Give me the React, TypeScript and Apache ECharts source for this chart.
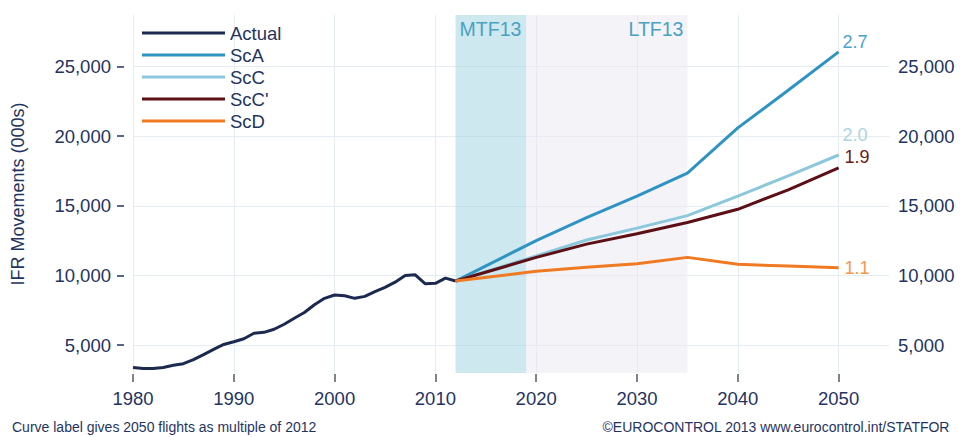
import React, { useEffect, useRef } from "react";
import * as echarts from "echarts";

const actualYears = [1980, 1981, 1982, 1983, 1984, 1985, 1986, 1987, 1988, 1989, 1990, 1991, 1992, 1993, 1994, 1995, 1996, 1997, 1998, 1999, 2000, 2001, 2002, 2003, 2004, 2005, 2006, 2007, 2008, 2009, 2010, 2011, 2012];
const actualValues = [3400, 3330, 3330, 3400, 3550, 3670, 3960, 4320, 4690, 5050, 5240, 5460, 5850, 5920, 6140, 6500, 6930, 7340, 7900, 8360, 8600, 8550, 8360, 8500, 8840, 9150, 9520, 10000, 10050, 9400, 9440, 9810, 9600];

const forecastYears = [2012, 2020, 2025, 2030, 2035, 2040, 2045, 2050];
const scA = [9600, 12500, 14150, 15700, 17350, 20600, 23300, 26050];
const scC = [9600, 11400, 12550, 13400, 14300, 15700, 17150, 18650];
const scCp = [9600, 11300, 12250, 13000, 13800, 14750, 16150, 17730];
const scD = [9600, 10300, 10600, 10850, 11300, 10800, 10680, 10550];

const seriesNames = ["Actual", "ScA", "ScC", "ScC'", "ScD"];
const endLabels = ["2.7", "2.0", "1.9", "1.1"];

const xTicks = [1980, 1990, 2000, 2010, 2020, 2030, 2040, 2050];
const yTicks = [5000, 10000, 15000, 20000, 25000];

const bands = [
  { name: "MTF13", from: 2012, to: 2019 },
  { name: "LTF13", from: 2019, to: 2035 },
];

const FONT = "'Liberation Sans', Arial, Helvetica, sans-serif";
const NAVY = "#1f3461";
const LEGEND_ICON = "path://M0,0 L83,0 L83,3 L0,3 Z";

export default function App() {
  const ref = useRef<HTMLDivElement>(null);
  useEffect(() => {
    if (!ref.current) return;
    const chart = echarts.init(ref.current, undefined, { renderer: "svg" });

    const colors = ["#1b2a4e", "#2f94c4", "#8cc8dc", "#5c1015", "#f07a22"];
    const labelColors = ["#4aa3cf", "#a9d5e4", "#6b1a1f", "#f3994c"];
    const labelOffsets = [
      [0, -10],
      [0, -20],
      [2, -11],
      [2, 0],
    ];
    const forecasts = [scA, scC, scCp, scD];

    const series: any[] = [
      {
        name: "bands",
        type: "line",
        data: [],
        z: 1,
        silent: true,
        markArea: {
          silent: true,
          data: [
            [
              {
                xAxis: bands[0].from,
                itemStyle: { color: "rgba(157,209,225,0.5)" },
                label: {
                  show: true,
                  position: "insideTopLeft",
                  distance: 4,
                  formatter: bands[0].name,
                  color: "#4aa2c3",
                  fontSize: 19.5,
                  fontFamily: FONT,
                },
              },
              { xAxis: bands[0].to },
            ],
            [
              {
                xAxis: bands[1].from,
                itemStyle: { color: "rgba(231,231,241,0.5)" },
                label: {
                  show: true,
                  position: "insideTopRight",
                  distance: 4,
                  formatter: bands[1].name,
                  color: "#4aa2c3",
                  fontSize: 19.5,
                  fontFamily: FONT,
                },
              },
              { xAxis: bands[1].to },
            ],
          ],
        },
      },
      {
        name: seriesNames[0],
        type: "line",
        data: actualYears.map((y, i) => [y, actualValues[i]]),
        showSymbol: false,
        symbol: "none",
        lineStyle: { color: colors[0], width: 3 },
        itemStyle: { color: colors[0] },
        z: 3,
      },
      ...forecasts.map((vals, k) => ({
        name: seriesNames[k + 1],
        type: "line",
        data: forecastYears.map((y, i) => [y, vals[i]]),
        showSymbol: false,
        symbol: "none",
        lineStyle: { color: colors[k + 1], width: 3 },
        itemStyle: { color: colors[k + 1] },
        endLabel: {
          show: true,
          formatter: endLabels[k],
          color: labelColors[k],
          fontSize: 18,
          fontFamily: FONT,
          distance: 4,
          offset: labelOffsets[k],
        },
        z: 3,
      })),
    ];

    const option: any = {
      animation: false,
      backgroundColor: "#ffffff",
      textStyle: { fontFamily: FONT },
      grid: { left: 133, right: 71, top: 15, bottom: 64, containLabel: false },
      legend: {
        data: seriesNames.map((n) => ({ name: n, icon: LEGEND_ICON })),
        orient: "vertical",
        left: 137,
        top: 17,
        itemWidth: 83,
        itemHeight: 3,
        itemGap: 0,
        textStyle: { color: NAVY, fontSize: 18.5, fontFamily: FONT, lineHeight: 22, height: 22 },
        selectedMode: false,
      },
      xAxis: {
        type: "value",
        min: 1980,
        max: 2055,
        offset: 1,
        axisLine: { show: false },
        axisTick: { show: true, length: 8, lineStyle: { color: "#555a66", width: 1.5 }, customValues: xTicks },
        axisLabel: {
          customValues: xTicks,
          color: NAVY,
          fontSize: 18.5,
          fontFamily: FONT,
          margin: 15,
          formatter: (v: number) => String(v),
        },
        splitLine: { show: true, lineStyle: { color: "#e6edf2", width: 1 } },
      },
      yAxis: [
        {
          type: "value",
          min: 3000,
          max: 28700,
          position: "left",
          offset: 9,
          name: "IFR Movements (000s)",
          nameLocation: "middle",
          nameGap: 97,
          nameRotate: 90,
          nameTextStyle: { color: NAVY, fontSize: 18, fontFamily: FONT },
          axisLine: { show: false },
          axisTick: { show: true, length: 7, lineStyle: { color: NAVY, width: 1.5 }, customValues: yTicks },
          axisLabel: {
            customValues: yTicks,
            color: NAVY,
            fontSize: 18.5,
            fontFamily: FONT,
            margin: 13,
            formatter: (v: number) => v.toLocaleString("en-US"),
          },
          splitLine: { show: true, lineStyle: { color: "#e6edf2", width: 1 } },
        },
        {
          type: "value",
          min: 3000,
          max: 28700,
          position: "right",
          axisLine: { show: false },
          axisTick: { show: false, customValues: yTicks },
          axisLabel: {
            customValues: yTicks,
            color: NAVY,
            fontSize: 18.5,
            fontFamily: FONT,
            margin: 9,
            formatter: (v: number) => v.toLocaleString("en-US"),
          },
          splitLine: { show: false },
        },
      ],
      graphic: [
        {
          type: "text",
          left: 12,
          top: 420,
          style: {
            text: "Curve label gives 2050 flights as multiple of 2012",
            fill: NAVY,
            fontSize: 14,
            fontFamily: FONT,
          },
        },
        {
          type: "text",
          right: 10,
          top: 420,
          style: {
            text: "©EUROCONTROL 2013 www.eurocontrol.int/STATFOR",
            fill: NAVY,
            fontSize: 14,
            fontFamily: FONT,
          },
        },
      ],
      series,
    };

    chart.setOption(option);
    return () => chart.dispose();
  }, []);

  return (
    <div
      ref={ref}
      style={{ position: "fixed", left: 0, top: 0, width: 960, height: 437 }}
    />
  );
}
